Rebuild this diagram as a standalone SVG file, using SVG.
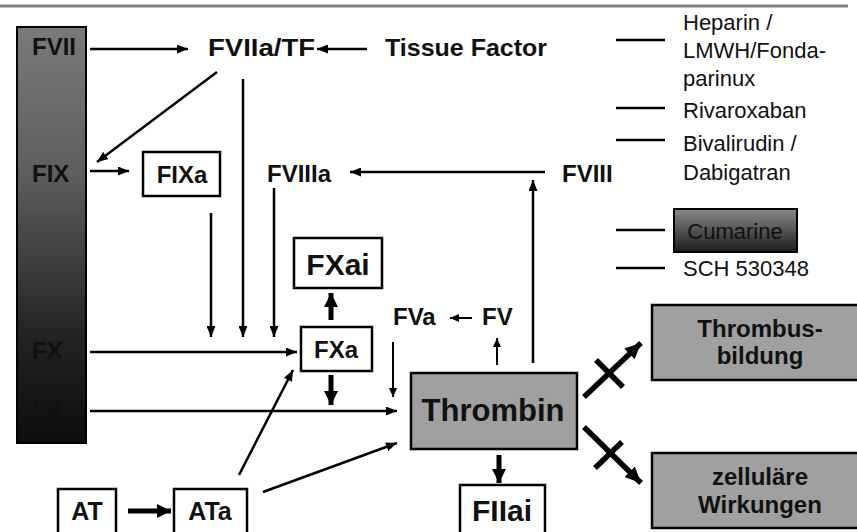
<svg xmlns="http://www.w3.org/2000/svg" width="857" height="532" viewBox="0 0 857 532">
<defs>
<linearGradient id="barGrad" x1="0" y1="0" x2="0" y2="1">
<stop offset="0" stop-color="#7a7a7a"/>
<stop offset="0.35" stop-color="#5e5e5e"/>
<stop offset="0.75" stop-color="#222"/>
<stop offset="1" stop-color="#0d0d0d"/>
</linearGradient>
<linearGradient id="cumGrad" x1="0" y1="0" x2="0" y2="1">
<stop offset="0" stop-color="#8a8a8a"/>
<stop offset="1" stop-color="#1c1c1c"/>
</linearGradient>
<marker id="ah" markerUnits="userSpaceOnUse" markerWidth="11" markerHeight="9" refX="11" refY="4.5" orient="auto">
<path d="M0,0 L11,4.5 L0,9 z" fill="#000"/>
</marker>
<marker id="ahs" markerUnits="userSpaceOnUse" markerWidth="9" markerHeight="8" refX="9" refY="4" orient="auto">
<path d="M0,0 L9,4 L0,8 z" fill="#000"/>
</marker>
<marker id="ahb" markerUnits="userSpaceOnUse" markerWidth="14" markerHeight="14" refX="14" refY="7" orient="auto">
<path d="M0,0 L14,7 L0,14 z" fill="#000"/>
</marker>
<marker id="ahx" markerUnits="userSpaceOnUse" markerWidth="16" markerHeight="15" refX="16" refY="7.5" orient="auto">
<path d="M0,0 L16,7.5 L0,15 z" fill="#000"/>
</marker>
</defs>
<style>
.b{font-family:"Liberation Sans",Arial,sans-serif;font-weight:bold;font-size:24px;fill:#111}
.r{font-family:"Liberation Sans",Arial,sans-serif;font-size:22px;fill:#111}
.m{text-anchor:middle}
.box{fill:#fff;stroke:#000;stroke-width:2.5}
.gbox{fill:#a0a0a0;stroke:#000;stroke-width:2.5}
.c{stroke:#000;stroke-width:2.5;fill:none}
.ct{stroke:#000;stroke-width:2;fill:none}
.cb{stroke:#000;stroke-width:5;fill:none}
.cx{stroke:#000;stroke-width:5.5;fill:none}
.leg{stroke:#000;stroke-width:2.5}
</style>
<line x1="0" y1="6" x2="848" y2="6" stroke="#808080" stroke-width="3"/>

<g id="bar">
<rect x="17" y="27" width="69" height="416" fill="url(#barGrad)" stroke="#000" stroke-width="2"/>
<text class="b" x="32" y="55">FVII</text>
<text class="b" x="32" y="182">FIX</text>
<text class="b" x="32" y="359">FX</text>
<text class="b" x="32" y="418">FII</text>
</g>
<g id="fviiatf"><text class="b" x="208" y="56" textLength="107" lengthAdjust="spacingAndGlyphs">FVIIa/TF</text></g>
<g id="tissuefactor"><text class="b" x="385" y="56" textLength="162" lengthAdjust="spacingAndGlyphs">Tissue Factor</text></g>
<g id="fixa"><rect class="box" x="143" y="152" width="77" height="44"/><text class="b m" x="182" y="183">FIXa</text></g>
<g id="fviiia"><text class="b" x="267" y="182">FVIIIa</text></g>
<g id="fviii"><text class="b" x="562" y="182">FVIII</text></g>
<g id="fxai"><rect class="box" x="294" y="238" width="88" height="50"/><text class="b m" x="338" y="275" style="font-size:30px">FXai</text></g>
<g id="fxa"><rect class="box" x="301" y="327" width="71" height="44"/><text class="b m" x="336" y="358">FXa</text></g>
<g id="fva"><text class="b" x="393" y="325">FVa</text></g>
<g id="fv"><text class="b" x="482" y="325">FV</text></g>
<g id="thrombin"><rect class="gbox" x="411" y="373" width="166" height="76"/><text class="b m" x="493" y="421" style="font-size:31px">Thrombin</text></g>
<g id="fiiai"><rect class="box" x="460" y="485" width="85" height="60"/><text class="b m" x="502" y="521" style="font-size:30px">FIIai</text></g>
<g id="at"><rect class="box" x="58" y="489" width="58" height="55"/><text class="b m" x="87" y="520" style="font-size:25px">AT</text></g>
<g id="ata"><rect class="box" x="174" y="489" width="73" height="55"/><text class="b m" x="210" y="520" style="font-size:25px">ATa</text></g>
<g id="thrombusbildung"><rect class="gbox" x="652" y="305" width="216" height="75"/><text class="b m" x="760" y="337">Thrombus-</text><text class="b m" x="760" y="364">bildung</text></g>
<g id="zellulaere"><rect class="gbox" x="652" y="453" width="216" height="75"/><text class="b m" x="760" y="485">zelluläre</text><text class="b m" x="760" y="513">Wirkungen</text></g>

<g id="legend">
<line class="leg" x1="616" y1="40" x2="665" y2="40"/>
<line class="leg" x1="616" y1="108" x2="665" y2="108"/>
<line class="leg" x1="616" y1="140" x2="665" y2="140"/>
<line class="leg" x1="616" y1="230" x2="665" y2="230"/>
<line class="leg" x1="616" y1="268" x2="665" y2="268"/>
<text class="r" x="683" y="30">Heparin /</text>
<text class="r" x="683" y="58">LMWH/Fonda-</text>
<text class="r" x="683" y="86">parinux</text>
<text class="r" x="683" y="118">Rivaroxaban</text>
<text class="r" x="683" y="151">Bivalirudin /</text>
<text class="r" x="683" y="180">Dabigatran</text>
<g id="cumarine"><rect x="674" y="209" width="123" height="43" fill="url(#cumGrad)" stroke="#000" stroke-width="2"/><text class="r m" x="735" y="239">Cumarine</text></g>
<text class="r" x="683" y="276">SCH 530348</text>
</g>

<g id="connectors">
<line class="c" x1="90" y1="49" x2="188" y2="49" marker-end="url(#ah)"/>
<line class="c" x1="367" y1="49" x2="317" y2="49" marker-end="url(#ah)"/>
<line class="c" x1="217" y1="72" x2="97" y2="162" marker-end="url(#ah)"/>
<line class="c" x1="90" y1="171" x2="129" y2="171" marker-end="url(#ah)"/>
<line class="c" x1="211" y1="213" x2="211" y2="337" marker-end="url(#ah)"/>
<line class="c" x1="243" y1="79" x2="243" y2="337" marker-end="url(#ah)"/>
<line class="c" x1="274" y1="188" x2="274" y2="337" marker-end="url(#ah)"/>
<line class="c" x1="90" y1="352" x2="297" y2="352" marker-end="url(#ah)"/>
<line class="c" x1="90" y1="411" x2="397" y2="411" marker-end="url(#ah)"/>
<line class="c" x1="545" y1="172" x2="350" y2="172" marker-end="url(#ah)"/>
<line class="c" x1="533" y1="363" x2="533" y2="180" marker-end="url(#ah)"/>
<line class="ct" x1="393" y1="342" x2="393" y2="397" marker-end="url(#ahs)"/>
<line class="ct" x1="497" y1="365" x2="497" y2="338" marker-end="url(#ahs)"/>
<line class="ct" x1="472" y1="318" x2="450" y2="318" marker-end="url(#ahs)"/>
<line class="cb" x1="331" y1="320" x2="331" y2="293" marker-end="url(#ahb)"/>
<line class="cb" x1="331" y1="375" x2="331" y2="405" marker-end="url(#ahb)"/>
<line class="c" x1="239" y1="475" x2="293" y2="370" marker-end="url(#ah)"/>
<line class="c" x1="263" y1="492" x2="397" y2="443" marker-end="url(#ah)"/>
<line class="cb" x1="128" y1="511" x2="171" y2="511" marker-end="url(#ahb)"/>
<line class="cb" x1="499" y1="455" x2="499" y2="483" marker-end="url(#ahb)"/>
<line class="cx" x1="584" y1="397" x2="641" y2="343" marker-end="url(#ahx)"/>
<line class="cx" x1="596" y1="360" x2="623" y2="387"/>
<line class="cx" x1="584" y1="427" x2="641" y2="483" marker-end="url(#ahx)"/>
<line class="cx" x1="622" y1="442" x2="595" y2="468"/>
</g>
</svg>
